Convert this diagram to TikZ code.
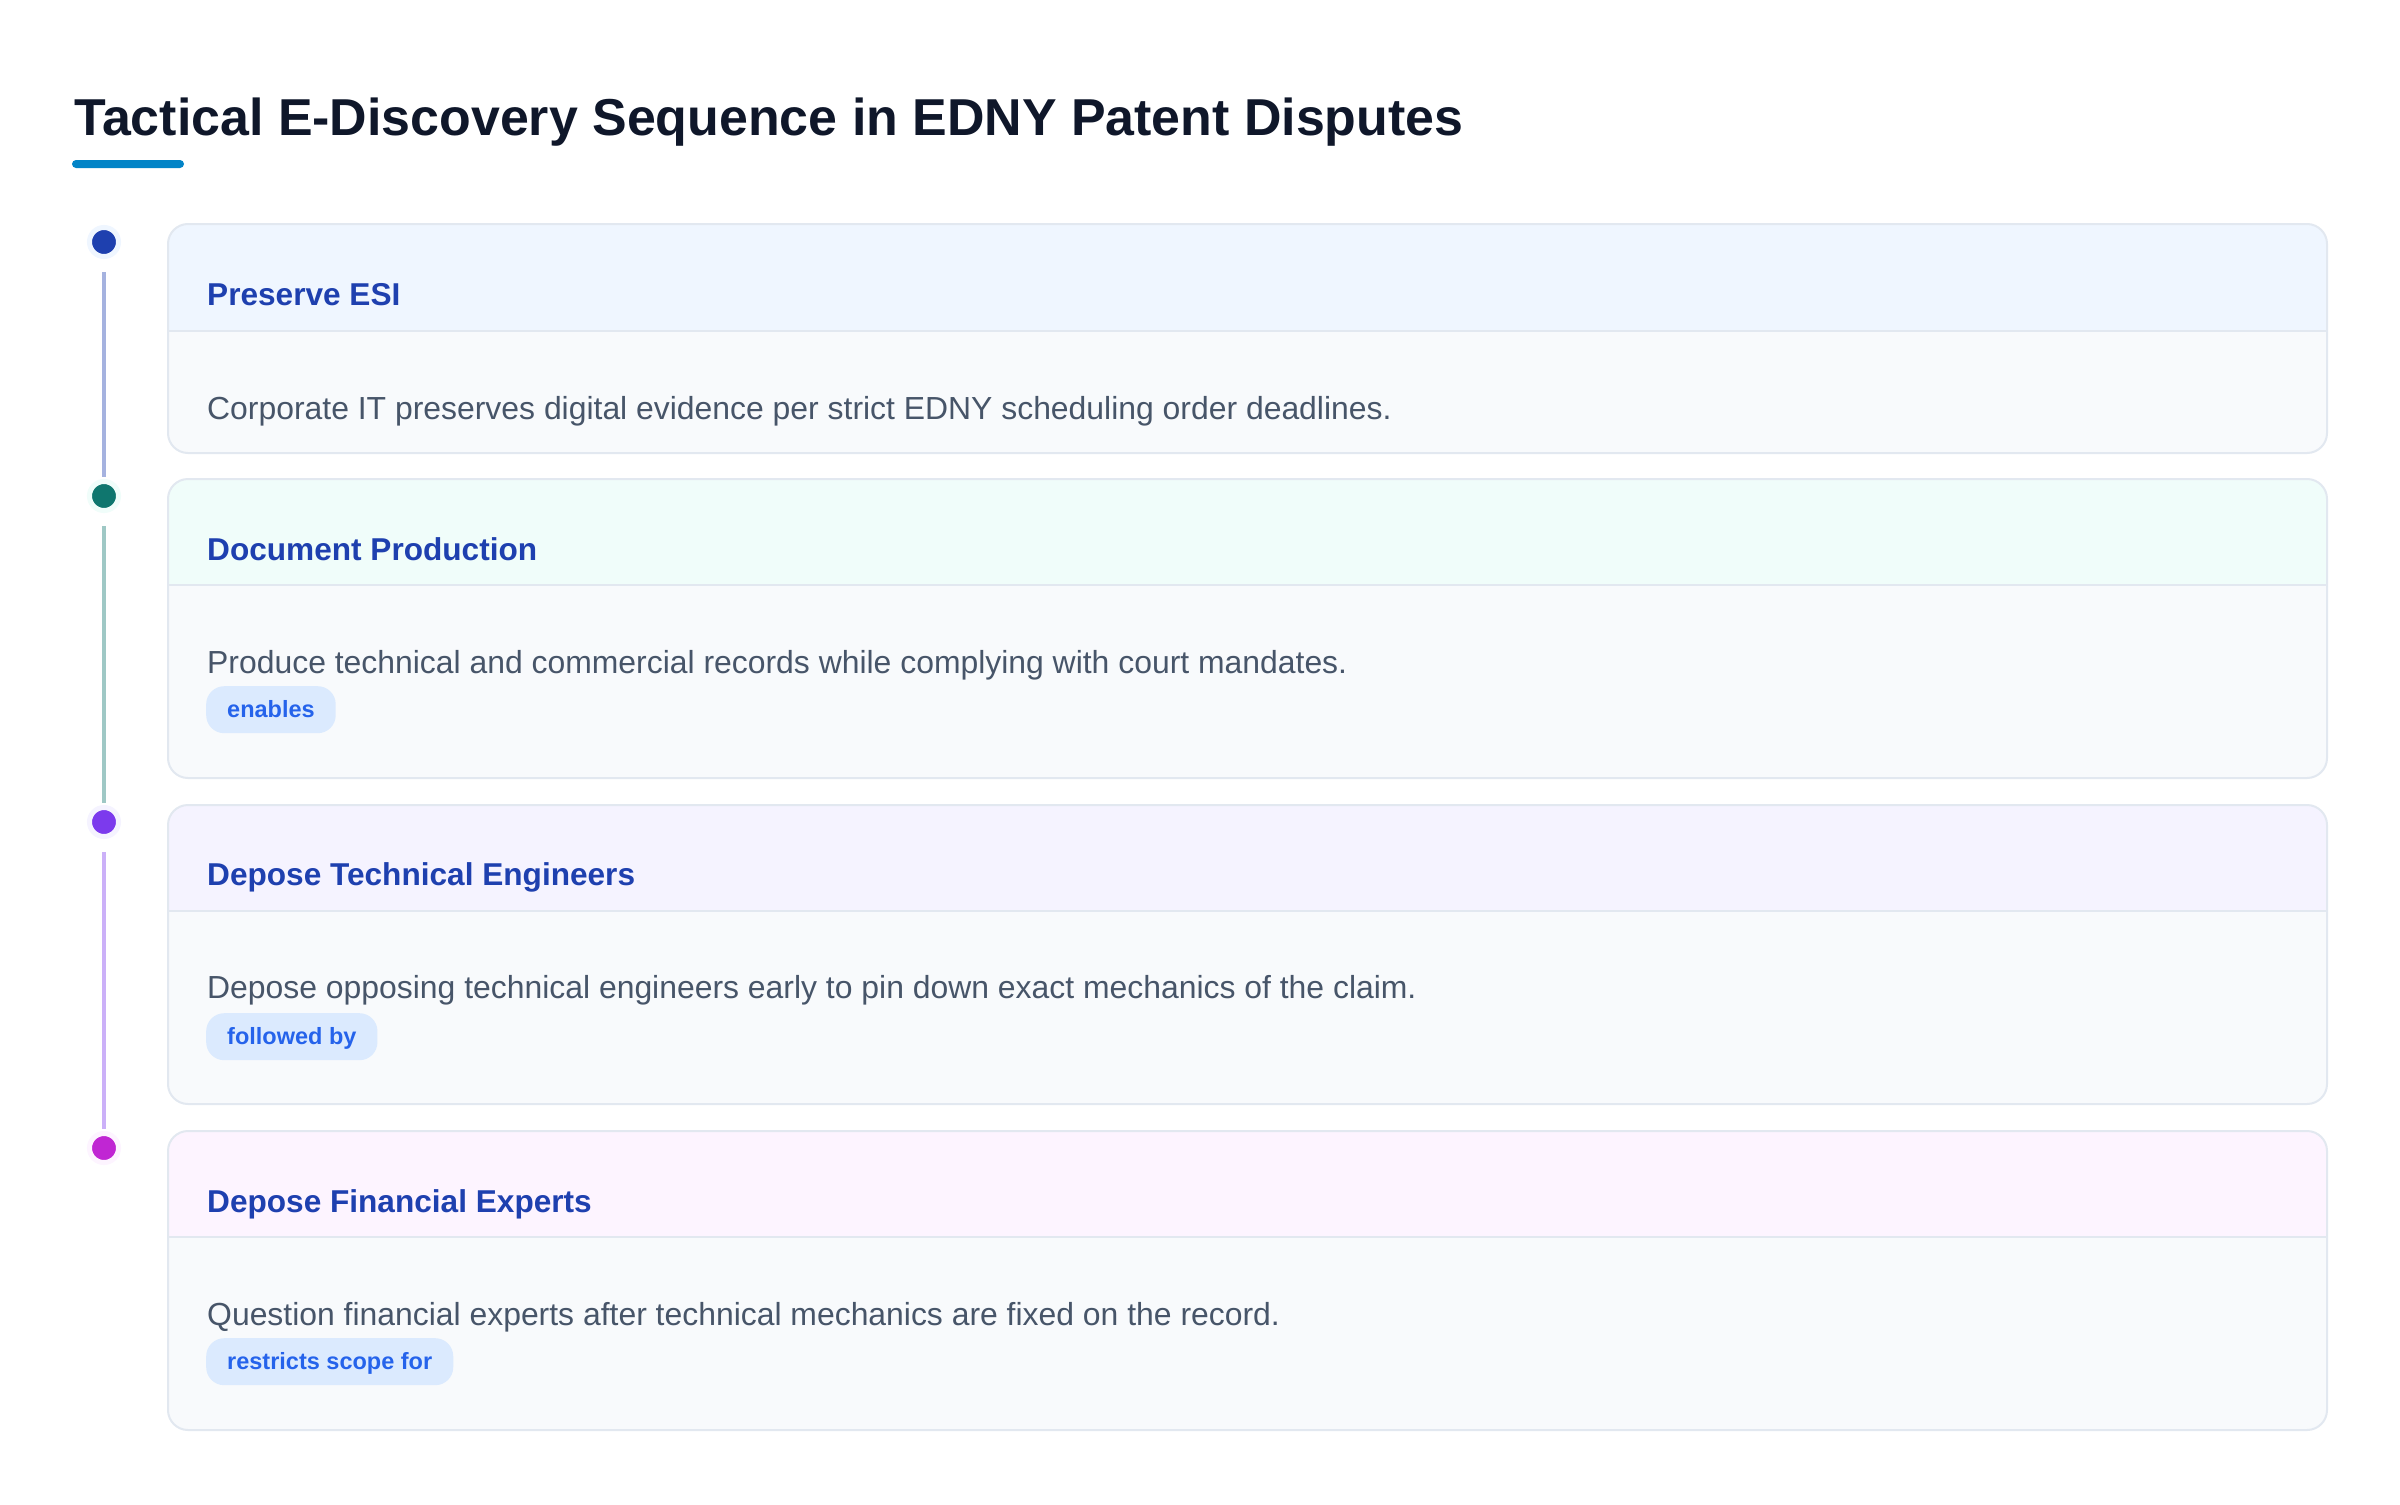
\documentclass[tikz,border=0pt]{standalone}
\usepackage{fontspec}
\setmainfont{Liberation Sans}
\definecolor{titleink}{HTML}{0F172A}
\definecolor{accent}{HTML}{0284C7}
\definecolor{cardline}{HTML}{E2E8F0}
\definecolor{cardbg}{HTML}{F8FAFC}
\definecolor{headink}{HTML}{1E40AF}
\definecolor{bodyink}{HTML}{475569}
\definecolor{badgebg}{HTML}{DBEAFE}
\definecolor{badgeink}{HTML}{2563EB}
\definecolor{esidot}{HTML}{1E40AF}
\definecolor{esihead}{HTML}{EFF6FF}
\definecolor{proddot}{HTML}{0F766E}
\definecolor{prodhead}{HTML}{F0FDFA}
\definecolor{techdot}{HTML}{7C3AED}
\definecolor{techhead}{HTML}{F5F3FF}
\definecolor{findot}{HTML}{C026D3}
\definecolor{finhead}{HTML}{FDF4FF}
\tikzset{
  cardedge/.style={draw=cardline, line width=2pt},
  steptitle/.style={anchor=base west, inner sep=0pt, text=headink, font=\bfseries\fontsize{31.6}{38}\selectfont},
  steptext/.style={anchor=base west, inner sep=0pt, text=bodyink, font=\fontsize{31.9}{38}\selectfont},
  badge/.style={anchor=north west, fill=badgebg, text=badgeink, rounded corners=18pt, inner xsep=21pt, inner ysep=0pt, text height=31pt, text depth=16pt, font=\bfseries\fontsize{23.5}{28}\selectfont},
  stepdot/.style={circle, minimum size=29pt, inner sep=0pt, line width=5pt},
  rail/.style={line width=3.5pt, shorten <=13pt, shorten >=2pt}
}
\begin{document}
\begin{tikzpicture}[x=1pt,y=-1pt]
  \useasboundingbox[fill=white] (0,0) rectangle (2400,1504);
  \node[anchor=base west, inner sep=0pt, text=titleink, font=\bfseries\fontsize{51.9}{62}\selectfont] at (74,135) (title) {Tactical E-Discovery Sequence in EDNY Patent Disputes};
  \fill[accent, rounded corners=4pt] (72,160) rectangle (184,168);

  % preserve ESI
  \fill[cardbg, rounded corners=20pt] (168,224) rectangle (2327,453);
  \fill[esihead, rounded corners=20pt] (168,331) |- (2327,224) -- (2327,331);
  \draw[cardedge] (168,331) -- (2327,331);
  \draw[cardedge, rounded corners=20pt] (168,224) rectangle (2327,453);
  \node[steptitle] at (207,305) (esi) {Preserve ESI};
  \node[steptext] at (207,419) (esitext) {Corporate IT preserves digital evidence per strict EDNY scheduling order deadlines.};

  % document production
  \fill[cardbg, rounded corners=20pt] (168,479) rectangle (2327,778);
  \fill[prodhead, rounded corners=20pt] (168,585) |- (2327,479) -- (2327,585);
  \draw[cardedge] (168,585) -- (2327,585);
  \draw[cardedge, rounded corners=20pt] (168,479) rectangle (2327,778);
  \node[steptitle] at (207,560) (prod) {Document Production};
  \node[steptext] at (207,673) (prodtext) {Produce technical and commercial records while complying with court mandates.};
  \node[badge] at (206,686) (prodbadge) {enables};

  % technical engineers
  \fill[cardbg, rounded corners=20pt] (168,805) rectangle (2327,1104);
  \fill[techhead, rounded corners=20pt] (168,911) |- (2327,805) -- (2327,911);
  \draw[cardedge] (168,911) -- (2327,911);
  \draw[cardedge, rounded corners=20pt] (168,805) rectangle (2327,1104);
  \node[steptitle] at (207,885) (tech) {Depose Technical Engineers};
  \node[steptext] at (207,998) (techtext) {Depose opposing technical engineers early to pin down exact mechanics of the claim.};
  \node[badge] at (206,1013) (techbadge) {followed by};

  % financial experts
  \fill[cardbg, rounded corners=20pt] (168,1131) rectangle (2327,1430);
  \fill[finhead, rounded corners=20pt] (168,1237) |- (2327,1131) -- (2327,1237);
  \draw[cardedge] (168,1237) -- (2327,1237);
  \draw[cardedge, rounded corners=20pt] (168,1131) rectangle (2327,1430);
  \node[steptitle] at (207,1212) (fin) {Depose Financial Experts};
  \node[steptext] at (207,1325) (fintext) {Question financial experts after technical mechanics are fixed on the record.};
  \node[badge] at (206,1338) (finbadge) {restricts scope for};

  % timeline
  \node[stepdot, fill=esidot, draw=esihead] at (104,242) (esidot) {};
  \node[stepdot, fill=proddot, draw=prodhead] at (104,496) (proddot) {};
  \node[stepdot, fill=techdot, draw=techhead] at (104,822) (techdot) {};
  \node[stepdot, fill=findot, draw=finhead] at (104,1148) (findot) {};
  \draw[rail, esidot!40!white] (esidot) -- (proddot);
  \draw[rail, proddot!40!white] (proddot) -- (techdot);
  \draw[rail, techdot!40!white] (techdot) -- (findot);
\end{tikzpicture}
\end{document}
